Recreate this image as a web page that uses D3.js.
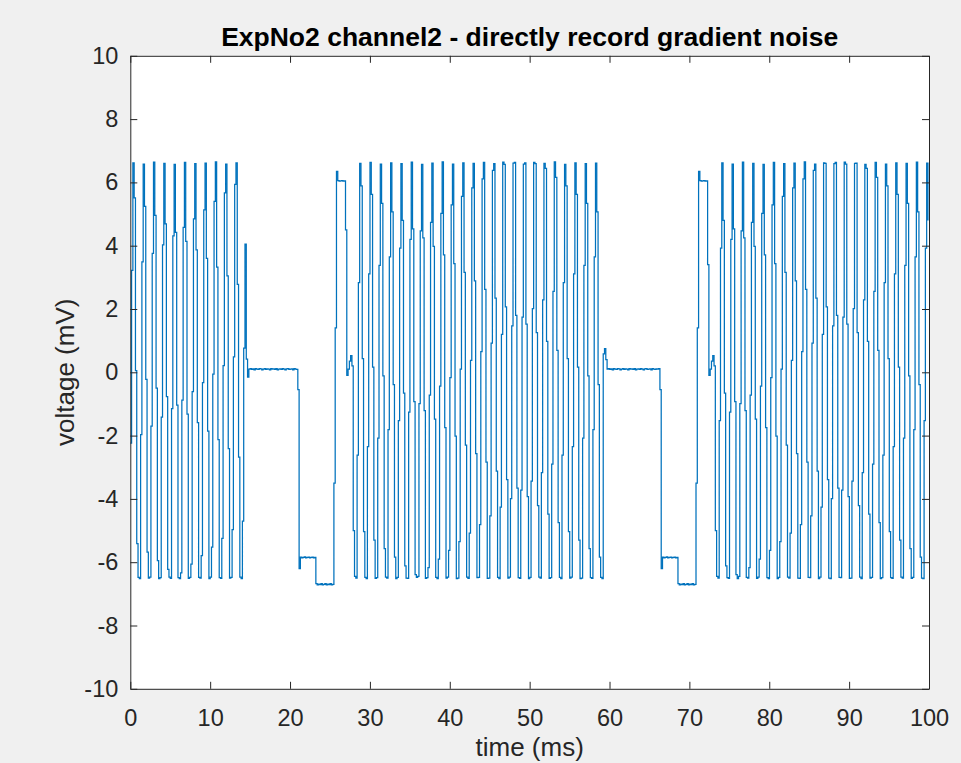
<!DOCTYPE html>
<html>
<head>
<meta charset="utf-8">
<script src="https://cdn.jsdelivr.net/npm/d3@7"></script>
<style>
  html, body { margin: 0; padding: 0; background: #f0f0f0; }
  svg { display: block; }
  text { font-family: "Liberation Sans", Arial, Helvetica, sans-serif; }
</style>
</head>
<body>
<svg id="chart" width="961" height="763"></svg>
<script>
// Sampling interval of the recorder (ms per held sample)
const DT = 0.16134;

// Recorded channel-2 voltage (mV), one value per sample, in recording order.
// First gradient readout train (already running when the recording starts)
const burst1 = [
  -2.24, 3.22,
  6.62, 5.51, 0.05, -5.41, -6.48, -6.52, -1.97, 3.49,
  6.58, 5.24, -0.22, -5.68, -6.50, -6.47, -1.70, 3.76,
  6.64, 4.96, -0.50, -5.95, -6.52, -6.49, -1.42, 4.03,
  6.60, 4.69, -0.77, -6.23, -6.47, -6.51, -1.15, 4.31,
  6.57, 4.42, -1.04, -6.49, -6.52, -6.34, -0.88, 4.58,
  6.63, 4.14, -1.32, -6.51, -6.48, -6.06, -0.61, 4.85,
  6.59, 3.87, -1.59, -6.48, -6.50, -5.79, -0.33, 5.13,
  6.61, 3.60, -1.86, -6.52, -6.47, -5.52, -0.06, 5.40,
  6.65, 3.32, -2.13, -6.49, -6.51, -5.25, 0.21, 5.67,
  6.58, 3.05, -2.41, -6.50, -6.48, -4.97, 0.49, 5.94,
  6.62, 2.78, -2.68, -6.47, -6.52, -4.70, 0.76, 4.05,
  0.42, -0.15
];

// Quiet interval, slice/phase blips and prephasing lobe before the 2nd train
const pause1 = [
  0.10, 0.12, 0.09, 0.11, 0.08, 0.12, 0.10, 0.09, 0.12, 0.11,
  0.08, 0.10, 0.12, 0.09, 0.11, 0.10, 0.08, 0.12, 0.10, 0.11,
  0.09, 0.12, 0.08, 0.10, 0.11, 0.09, 0.12, 0.10, 0.08, 0.11,
  0.12, 0.09, 0.10, 0.11, 0.08, 0.12, 0.10, 0.09,
  -0.55, -6.20,
  -5.84, -5.86, -5.85, -5.83, -5.86, -5.85, -5.84, -5.86, -5.85, -5.84, -5.86, -5.85,
  -6.68, -6.72, -6.69, -6.71, -6.68, -6.72, -6.70, -6.68, -6.72, -6.69, -6.71, -6.68, -6.72, -6.70,
  -3.50, 1.40, 6.35,
  6.06, 6.04, 6.05, 6.06, 6.04, 6.05,
  4.50, -0.10, 0.10, 0.35, 0.53, 0.20, -5.00, -6.45, -6.50, -2.62, 2.83
];

// Second readout train
const burst2 = [
  6.60, 5.89, 0.43, -5.03, -6.48, -6.52, -2.35, 3.11,
  6.63, 5.62, 0.16, -5.30, -6.51, -6.49, -2.08, 3.38,
  6.58, 5.34, -0.11, -5.57, -6.47, -6.50, -1.81, 3.65,
  6.62, 5.07, -0.39, -5.84, -6.52, -6.48, -1.53, 3.92,
  6.59, 4.80, -0.66, -6.12, -6.50, -6.51, -1.26, 4.20,
  6.64, 4.53, -0.93, -6.39, -6.48, -6.45, -0.99, 4.47,
  6.57, 4.25, -1.21, -6.51, -6.49, -6.17, -0.72, 4.74,
  6.61, 3.98, -1.48, -6.48, -6.52, -5.90, -0.44, 5.02,
  6.65, 3.71, -1.75, -6.50, -6.47, -5.63, -0.17, 5.29,
  6.58, 3.43, -2.02, -6.52, -6.50, -5.35, 0.10, 5.56,
  6.62, 3.16, -2.30, -6.47, -6.51, -5.08, 0.38, 5.83,
  6.60, 2.89, -2.57, -6.49, -6.48, -4.81, 0.65, 6.11,
  6.63, 2.62, -2.84, -6.51, -6.50, -4.54, 0.92, 6.38,
  6.59, 2.34, -3.12, -6.48, -6.52, -4.26, 1.20,
  6.64, 6.57, 2.07, -3.39, -6.50, -6.47, -3.99, 1.47,
  6.61, 6.63, 1.80, -3.66, -6.49, -6.51, -3.72, 1.74,
  6.58, 6.62, 1.52, -3.93, -6.52, -6.48, -3.44, 2.01,
  6.63, 6.59, 1.25, -4.21, -6.47, -6.50, -3.17, 2.29,
  6.60, 6.44, 0.98, -4.48, -6.51, -6.49, -2.90, 2.56,
  6.65, 6.16, 0.69, -4.75, -6.48, -6.52, -2.62, 2.83,
  6.57, 5.89, 0.43, -5.03, -6.50, -6.47, -2.35, 3.11,
  6.62, 5.62, 0.16, -5.30, -6.52, -6.50, -2.08, 3.38,
  6.59, 5.34, -0.11, -5.57, -6.49, -6.51, -1.81, 3.65,
  6.61, 5.07, -0.39, -5.84, -6.48, -6.52
];

// Quiet interval and blips before the 3rd train
const pause2 = [
  0.58, 0.75, 0.40,
  0.10, 0.12, 0.09, 0.11, 0.08, 0.12, 0.10, 0.09, 0.12, 0.11,
  0.08, 0.10, 0.12, 0.09, 0.11, 0.10, 0.08, 0.12, 0.10, 0.11,
  0.09, 0.12, 0.08, 0.10, 0.11, 0.09, 0.12, 0.10, 0.08, 0.11,
  0.12, 0.09, 0.10, 0.11, 0.08, 0.12, 0.10, 0.09, 0.11, 0.10,
  0.12,
  -0.55, -6.20,
  -5.84, -5.86, -5.85, -5.83, -5.86, -5.85, -5.84, -5.86, -5.85, -5.84, -5.86, -5.85,
  -6.68, -6.72, -6.69, -6.71, -6.68, -6.72, -6.70, -6.68, -6.72, -6.69, -6.71, -6.68, -6.72, -6.70,
  -3.50, 1.40, 6.35,
  6.06, 6.04, 6.05, 6.06, 6.04, 6.05,
  3.40, -0.10, 0.10, 0.35, 0.53, 0.20, -5.00, -6.45, -6.50, -1.53, 3.92
];

// Third readout train (still running when the recording stops)
const burst3 = [
  6.62, 4.80, -0.66, -6.12, -6.49, -6.51, -1.26, 4.20,
  6.58, 4.53, -0.93, -6.39, -6.52, -6.45, -0.99, 4.47,
  6.64, 4.25, -1.21, -6.48, -6.50, -6.17, -0.72, 4.74,
  6.60, 3.98, -1.48, -6.51, -6.47, -5.90, -0.44, 5.02,
  6.57, 3.71, -1.75, -6.49, -6.52, -5.63, -0.17, 5.29,
  6.63, 3.43, -2.02, -6.52, -6.48, -5.35, 0.10, 5.56,
  6.59, 3.16, -2.30, -6.47, -6.50, -5.08, 0.38, 5.83,
  6.61, 2.89, -2.57, -6.50, -6.51, -4.81, 0.65, 6.11,
  6.65, 2.62, -2.84, -6.48, -6.49, -4.54, 0.92, 6.38,
  6.58, 2.34, -3.12, -6.52, -6.47, -4.26, 1.20,
  6.62, 6.60, 2.07, -3.39, -6.50, -6.52, -3.99, 1.47,
  6.59, 6.63, 1.80, -3.66, -6.48, -6.49, -3.72, 1.74,
  6.64, 6.58, 1.52, -3.93, -6.51, -6.50, -3.44, 2.01,
  6.60, 6.61, 1.25, -4.21, -6.47, -6.52, -3.17, 2.29,
  6.57, 6.44, 0.98, -4.48, -6.50, -6.48, -2.90, 2.56,
  6.63, 6.16, 0.69, -4.75, -6.52, -6.49, -2.62, 2.83,
  6.58, 5.89, 0.43, -5.03, -6.49, -6.51, -2.35, 3.11,
  6.62, 5.62, 0.16, -5.30, -6.47, -6.50, -2.08, 3.38,
  6.60, 5.34, -0.11, -5.57, -6.51, -6.48, -1.81, 3.65,
  6.64, 5.07, -0.39, -5.84, -6.50, -6.52, -1.53, 3.92,
  6.61, 4.80
];

// Axis ticks and texts
const xTicks = [0, 10, 20, 30, 40, 50, 60, 70, 80, 90, 100];
const yTicks = [-10, -8, -6, -4, -2, 0, 2, 4, 6, 8, 10];
const xDomain = [0, 100];
const yDomain = [-10, 10];
const titleText = "ExpNo2 channel2 - directly record gradient noise";
const xLabelText = "time (ms)";
const yLabelText = "voltage (mV)";

// ---- drawing ----
const svg = d3.select("#chart");
const W = 961, H = 763;
const box = { left: 130.3, right: 929, top: 55.8, bottom: 688.8 };
const ink = "#262626";

svg.append("rect").attr("width", W).attr("height", H).attr("fill", "#f0f0f0");

const x = d3.scaleLinear().domain(xDomain).range([box.left, box.right]);
const y = d3.scaleLinear().domain(yDomain).range([box.bottom, box.top]);

svg.append("rect")
  .attr("x", box.left).attr("y", box.top)
  .attr("width", box.right - box.left).attr("height", box.bottom - box.top)
  .attr("fill", "#ffffff");

svg.append("clipPath").attr("id", "plot-clip")
  .append("rect")
  .attr("x", box.left).attr("y", box.top)
  .attr("width", box.right - box.left).attr("height", box.bottom - box.top);

const voltage = [].concat(burst1, pause1, burst2, pause2, burst3);
const samples = voltage.map((v, i) => ({ t: i * DT, v }));

// each recorded value is held until the next sample arrives
const line = d3.line()
  .x(d => x(d.t))
  .y(d => y(d.v))
  .curve(d3.curveStepAfter);

svg.append("path")
  .datum(samples)
  .attr("clip-path", "url(#plot-clip)")
  .attr("fill", "none")
  .attr("stroke", "#0072bd")
  .attr("stroke-width", 1.25)
  .attr("d", line);

const fmt = d => String(d);
const tickFont = 23.5;

function styleAxis(g) {
  g.select(".domain").attr("stroke", ink).attr("stroke-width", 1);
  g.selectAll(".tick line").attr("stroke", ink).attr("stroke-width", 1);
  g.selectAll(".tick text").attr("fill", ink).attr("font-size", tickFont)
    .attr("font-family", '"Liberation Sans", Arial, Helvetica, sans-serif');
}

svg.append("g")
  .attr("transform", `translate(0,${box.bottom})`)
  .call(d3.axisBottom(x).tickValues(xTicks).tickFormat(fmt).tickSize(-7).tickSizeOuter(0).tickPadding(21))
  .call(styleAxis);

svg.append("g")
  .attr("transform", `translate(0,${box.top})`)
  .call(d3.axisTop(x).tickValues(xTicks).tickFormat("").tickSize(-7).tickSizeOuter(0))
  .call(styleAxis);

svg.append("g")
  .attr("transform", `translate(${box.left},0)`)
  .call(d3.axisLeft(y).tickValues(yTicks).tickFormat(fmt).tickSize(-7).tickSizeOuter(0).tickPadding(12))
  .call(styleAxis);

svg.append("g")
  .attr("transform", `translate(${box.right},0)`)
  .call(d3.axisRight(y).tickValues(yTicks).tickFormat("").tickSize(-7).tickSizeOuter(0))
  .call(styleAxis);

svg.append("text")
  .attr("x", (box.left + box.right) / 2).attr("y", 46)
  .attr("text-anchor", "middle")
  .attr("font-size", 26.5).attr("font-weight", "bold").attr("fill", "#000")
  .text(titleText);

svg.append("text")
  .attr("x", (box.left + box.right) / 2).attr("y", 756)
  .attr("text-anchor", "middle")
  .attr("font-size", 26).attr("fill", ink)
  .text(xLabelText);

svg.append("text")
  .attr("transform", `translate(74,${(box.top + box.bottom) / 2}) rotate(-90)`)
  .attr("text-anchor", "middle")
  .attr("font-size", 26).attr("fill", ink)
  .text(yLabelText);
</script>
</body>
</html>
